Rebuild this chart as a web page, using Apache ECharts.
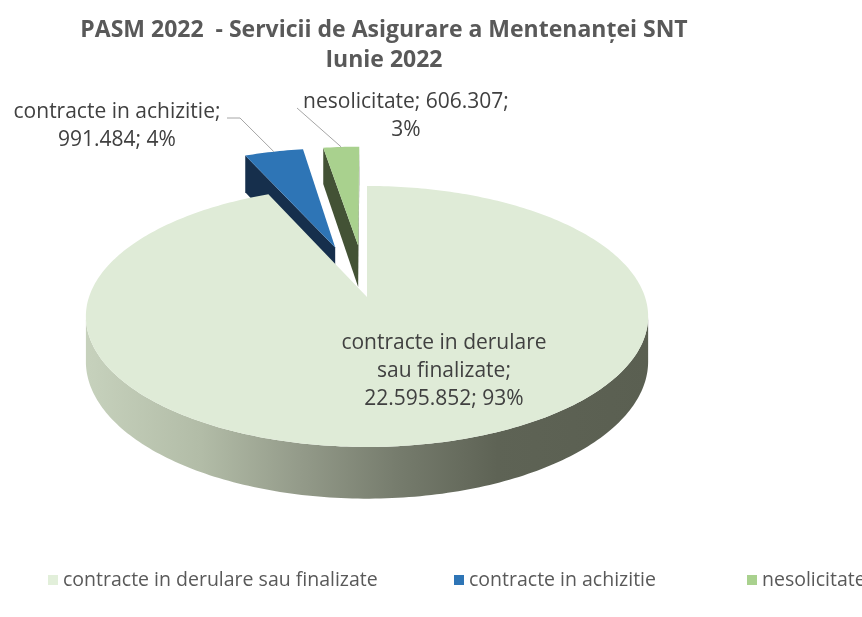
<!DOCTYPE html>
<html lang="ro">
<head>
<meta charset="utf-8" />
<title>PASM 2022</title>
<script src="https://cdn.jsdelivr.net/npm/echarts@6/dist/echarts.min.js"></script>
<style>
  html, body { margin: 0; padding: 0; background: #fff; }
  #chart { width: 862px; height: 617px; }
</style>
</head>
<body>
<div id="chart"></div>
<script>
// data
var categories = ['contracte in derulare sau finalizate', 'contracte in achizitie', 'nesolicitate'];
var values = [22595852, 991484, 606307];
var labelTexts = ['contracte in derulare\nsau finalizate;\n{v}; {p}', 'contracte in achizitie;\n{v}; {p}', 'nesolicitate; {v};\n{p}'];

// styles
var topColors = ['#dfebd7', '#2e75b6', '#a9d18e'];
var legendColors = ['#e2efda', '#2e75b6', '#a9d18e'];
var wallColors = [null, '#162f4c', '#435235'];
var explodes = [0, 0.43, 0.43];
var labelPos = [[444, 329], [117, 98], [406, 88]];
var leaderStart = [null, [[227, 118], [240, 118]], [[297, 108]]];
var legendLeft = [48, 454, 747];

// fake 3d projection of the pie disk
var CX = 367, CY = 297, R = 278, S = 127.6, K = 0.149, D = 44;
var total = values.reduce(function (s, v) { return s + v; }, 0);

function proj(a, b) {
  var w = 1 + K * b;
  return [CX + R * a / w, CY - S * b / w];
}
function lower(a, b) {
  var w = 1 + K * b;
  var p = proj(a, b);
  return [p[0], p[1] + D / w];
}
function facing(n, a, b) {
  // viewer sits in front of the disk
  return n[0] * (0 - a) + n[1] * (-1 / K - b) > 0.01;
}
function fmt(v) {
  return String(v).replace(/\B(?=(\d{3})+(?!\d))/g, '.');
}

var wallGradient = {
  type: 'linear', x: 89, y: 0, x2: 649, y2: 0, global: true,
  colorStops: [
    { offset: 0, color: '#c6d1bc' },
    { offset: 0.2, color: '#b2bca7' },
    { offset: 0.38, color: '#939a89' },
    { offset: 0.55, color: '#767c6d' },
    { offset: 0.73, color: '#5e6355' },
    { offset: 1, color: '#5a5f51' }
  ]
};

function makeRender(i) {
  return function (params, api) {
    var v = api.value(0);
    var start = 0;
    for (var j = 0; j < i; j++) start += values[j];
    var t0 = start / total * Math.PI * 2;
    var t1 = (start + v) / total * Math.PI * 2;
    var tm = (t0 + t1) / 2;
    var ea = explodes[i] * Math.sin(tm), eb = explodes[i] * Math.cos(tm);
    var steps = Math.max(4, Math.ceil((t1 - t0) / (Math.PI / 180)));
    var pts = [];
    for (var k = 0; k <= steps; k++) {
      var t = t0 + (t1 - t0) * k / steps;
      var a = ea + Math.sin(t), b = eb + Math.cos(t);
      pts.push({ t: t, a: a, b: b, top: proj(a, b), bot: lower(a, b) });
    }
    var apexTop = proj(ea, eb), apexBot = lower(ea, eb);
    var wallFill = i === 0 ? wallGradient : wallColors[i];
    var children = [];

    // outer wall, only the part turned to the viewer
    var run = [];
    function flush() {
      if (run.length > 1) {
        var poly = run.map(function (p) { return p.top; })
          .concat(run.slice().reverse().map(function (p) { return p.bot; }));
        children.push({ type: 'polygon', shape: { points: poly }, style: { fill: wallFill } });
      }
      run = [];
    }
    pts.forEach(function (p) {
      if (facing([Math.sin(p.t), Math.cos(p.t)], p.a, p.b)) run.push(p); else flush();
    });
    flush();

    // cut faces
    var first = pts[0], last = pts[pts.length - 1];
    if (facing([-Math.cos(t0), Math.sin(t0)], ea + 0.5 * Math.sin(t0), eb + 0.5 * Math.cos(t0))) {
      children.push({ type: 'polygon', shape: { points: [apexTop, first.top, first.bot, apexBot] }, style: { fill: wallFill } });
    }
    if (facing([Math.cos(t1), -Math.sin(t1)], ea + 0.5 * Math.sin(t1), eb + 0.5 * Math.cos(t1))) {
      children.push({ type: 'polygon', shape: { points: [apexTop, last.top, last.bot, apexBot] }, style: { fill: wallFill } });
    }

    // top face
    children.push({
      type: 'polygon',
      shape: { points: [apexTop].concat(pts.map(function (p) { return p.top; })) },
      style: { fill: topColors[i] }
    });

    // leader line
    if (leaderStart[i]) {
      children.push({
        type: 'polyline',
        shape: { points: leaderStart[i].concat([proj(ea + Math.sin(tm), eb + Math.cos(tm))]) },
        style: { stroke: '#a6a6a6', lineWidth: 1, fill: null }
      });
    }

    // data label
    var pct = Math.round(v / total * 100) + '%';
    children.push({
      type: 'text',
      style: {
        text: labelTexts[i].replace('{v}', fmt(v)).replace('{p}', pct),
        x: labelPos[i][0], y: labelPos[i][1],
        align: 'center', verticalAlign: 'top',
        font: '21px "Open Sans"', lineHeight: 28, fill: '#404040'
      }
    });

    return { type: 'group', children: children };
  };
}

var chart = echarts.init(document.getElementById('chart'), null, { renderer: 'canvas' });

chart.setOption({
  animation: false,
  backgroundColor: '#fff',
  graphic: [{
    type: 'text',
    x: 384, y: 15,
    style: {
      text: 'PASM 2022  - Servicii de Asigurare a Mentenanței SNT\nIunie 2022',
      align: 'center',
      font: 'bold 23px "Open Sans"',
      lineHeight: 30,
      fill: '#595959'
    }
  }],
  legend: categories.map(function (c, i) {
    return {
      data: [c], left: legendLeft[i], top: 570, padding: 0,
      icon: 'rect', itemWidth: 10, itemHeight: 10, itemGap: 5,
      selectedMode: false,
      textStyle: { fontFamily: 'Open Sans', fontSize: 19.5, color: '#595959' }
    };
  }),
  series: categories.map(function (c, i) {
    return {
      type: 'custom',
      name: c,
      coordinateSystem: 'none',
      z: i === 0 ? 3 : 2,
      silent: true,
      itemStyle: { color: legendColors[i] },
      renderItem: makeRender(i),
      data: [[values[i]]]
    };
  })
});
</script>
</body>
</html>
